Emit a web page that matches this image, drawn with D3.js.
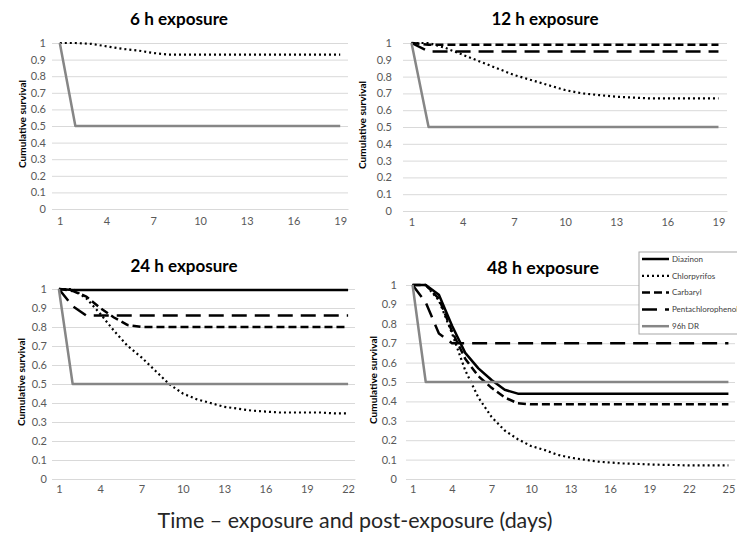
<!DOCTYPE html>
<html>
<head>
<meta charset="utf-8">
<script src="https://cdn.jsdelivr.net/npm/d3@7"></script>
<style>
  body { margin: 0; background: #fff; }
  svg { display: block; font-family: Lato, "Liberation Sans", sans-serif; }
</style>
</head>
<body>
<svg id="chart" width="737" height="537"></svg>
<script>
// categories (days)
const days19 = [1,2,3,4,5,6,7,8,9,10,11,12,13,14,15,16,17,18,19];
const days22 = [1,2,3,4,5,6,7,8,9,10,11,12,13,14,15,16,17,18,19,20,21,22];
const days25 = [1,2,3,4,5,6,7,8,9,10,11,12,13,14,15,16,17,18,19,20,21,22,23,24,25];
const ticks19 = [1,4,7,10,13,16,19];
const ticks22 = [1,4,7,10,13,16,19,22];
const ticks25 = [1,4,7,10,13,16,19,22,25];
const yTicks = [0,0.1,0.2,0.3,0.4,0.5,0.6,0.7,0.8,0.9,1];

const seriesNames = ["Diazinon", "Chlorpyrifos", "Carbaryl", "Pentachlorophenol", "96h DR"];

// 6 h exposure
const chlor6 = [1,1,0.995,0.98,0.965,0.955,0.94,0.93,0.93,0.93,0.93,0.93,0.93,0.93,0.93,0.93,0.93,0.93,0.93];
const dr6 = [1,0.5,0.5,0.5,0.5,0.5,0.5,0.5,0.5,0.5,0.5,0.5,0.5,0.5,0.5,0.5,0.5,0.5,0.5];

// 12 h exposure
const chlor12 = [1,1,0.97,0.93,0.89,0.85,0.81,0.78,0.75,0.72,0.70,0.69,0.68,0.675,0.67,0.67,0.67,0.67,0.67];
const carb12 = [1,0.99,0.99,0.99,0.99,0.99,0.99,0.99,0.99,0.99,0.99,0.99,0.99,0.99,0.99,0.99,0.99,0.99,0.99];
const penta12 = [1,0.95,0.95,0.95,0.95,0.95,0.95,0.95,0.95,0.95,0.95,0.95,0.95,0.95,0.95,0.95,0.95,0.95,0.95];
const dr12 = [1,0.5,0.5,0.5,0.5,0.5,0.5,0.5,0.5,0.5,0.5,0.5,0.5,0.5,0.5,0.5,0.5,0.5,0.5];

// 24 h exposure
const diaz24 = [1,0.995,0.995,0.995,0.995,0.995,0.995,0.995,0.995,0.995,0.995,0.995,0.995,0.995,0.995,0.995,0.995,0.995,0.995,0.995,0.995,0.995];
const chlor24 = [1,1,0.95,0.87,0.78,0.70,0.64,0.57,0.50,0.45,0.42,0.40,0.38,0.37,0.36,0.355,0.35,0.35,0.35,0.35,0.345,0.345];
const carb24 = [1,0.99,0.96,0.90,0.85,0.81,0.80,0.80,0.80,0.80,0.80,0.80,0.80,0.80,0.80,0.80,0.80,0.80,0.80,0.80,0.80,0.80];
const penta24 = [1,0.91,0.86,0.86,0.86,0.86,0.86,0.86,0.86,0.86,0.86,0.86,0.86,0.86,0.86,0.86,0.86,0.86,0.86,0.86,0.86,0.86];
const dr24 = [1,0.5,0.5,0.5,0.5,0.5,0.5,0.5,0.5,0.5,0.5,0.5,0.5,0.5,0.5,0.5,0.5,0.5,0.5,0.5,0.5,0.5];

// 48 h exposure
const diaz48 = [1,1,0.95,0.79,0.65,0.57,0.51,0.46,0.44,0.44,0.44,0.44,0.44,0.44,0.44,0.44,0.44,0.44,0.44,0.44,0.44,0.44,0.44,0.44,0.44];
const chlor48 = [1,1,0.92,0.75,0.56,0.42,0.32,0.25,0.205,0.17,0.15,0.125,0.11,0.10,0.09,0.085,0.08,0.078,0.075,0.073,0.072,0.07,0.07,0.07,0.07];
const carb48 = [1,1,0.93,0.76,0.62,0.53,0.47,0.42,0.39,0.385,0.385,0.385,0.385,0.385,0.385,0.385,0.385,0.385,0.385,0.385,0.385,0.385,0.385,0.385,0.385];
const penta48 = [1,0.91,0.75,0.70,0.70,0.70,0.70,0.70,0.70,0.70,0.70,0.70,0.70,0.70,0.70,0.70,0.70,0.70,0.70,0.70,0.70,0.70,0.70,0.70,0.70];
const dr48 = [1,0.5,0.5,0.5,0.5,0.5,0.5,0.5,0.5,0.5,0.5,0.5,0.5,0.5,0.5,0.5,0.5,0.5,0.5,0.5,0.5,0.5,0.5,0.5,0.5];

// line styles per series
const styles = {
  "Diazinon":          { stroke: "#000", width: 2.5, dash: null },
  "Chlorpyrifos":      { stroke: "#000", width: 2.2, dash: "2,3" },
  "Carbaryl":          { stroke: "#000", width: 2.5, dash: "8,4" },
  "Pentachlorophenol": { stroke: "#000", width: 2.5, dash: "15,8" },
  "96h DR":            { stroke: "#868686", width: 2.5, dash: null }
};

const panels = [
  { title: "6 h exposure", days: days19, ticks: ticks19,
    series: [["Chlorpyrifos", chlor6], ["96h DR", dr6]],
    x0: 52, x1: 348, y0: 43, y1: 209, tx: 179, ty: 25, tw: 98, ytx: 22, xly: 225, pad: 6 },
  { title: "12 h exposure", days: days19, ticks: ticks19,
    series: [["Chlorpyrifos", chlor12], ["Carbaryl", carb12], ["Pentachlorophenol", penta12], ["96h DR", dr12]],
    x0: 403, x1: 727, y0: 43, y1: 211, tx: 545, ty: 25, tw: 107, ytx: 362, xly: 226, pad: 11 },
  { title: "24 h exposure", days: days22, ticks: ticks22,
    series: [["Diazinon", diaz24], ["Chlorpyrifos", chlor24], ["Carbaryl", carb24], ["Pentachlorophenol", penta24], ["96h DR", dr24]],
    x0: 52, x1: 355, y0: 289, y1: 479, tx: 184, ty: 272, tw: 107, ytx: 21, xly: 493, pad: 5 },
  { title: "48 h exposure", days: days25, ticks: ticks25,
    series: [["Diazinon", diaz48], ["Chlorpyrifos", chlor48], ["Carbaryl", carb48], ["Pentachlorophenol", penta48], ["96h DR", dr48]],
    x0: 406, x1: 735, y0: 285, y1: 479, tx: 543, ty: 274, tw: 112, ytx: 373, xly: 493, pad: 9 }
];

const svg = d3.select("#chart");

function fitWidth(sel, target) {
  let len = sel.node().getComputedTextLength();
  let fs = parseFloat(sel.attr("font-size"));
  sel.attr("font-size", (fs * target / len).toFixed(2));
}

panels.forEach(p => {
  let g = svg.append("g");

  let x = d3.scalePoint().domain(p.days).range([p.x0, p.x1]).padding(0.5);
  let y = d3.scaleLinear().domain([0, 1]).range([p.y1, p.y0]);

  // gridlines + y labels
  let yAxis = g.append("g")
    .attr("transform", `translate(${p.x0},0)`)
    .call(d3.axisLeft(y).tickValues(yTicks).tickSize(-(p.x1 - p.x0)).tickPadding(p.pad)
      .tickFormat(d => String(+d.toFixed(1))));
  yAxis.select(".domain").remove();
  yAxis.selectAll(".tick line").attr("stroke", "#d9d9d9").attr("stroke-width", 1);
  yAxis.selectAll(".tick text")
    .attr("fill", "#595959").attr("font-size", 11)
    .attr("font-family", "Lato, sans-serif");

  // x axis
  let xAxis = g.append("g")
    .attr("transform", `translate(0,${p.y1})`)
    .call(d3.axisBottom(x).tickValues(p.ticks).tickSize(0).tickSizeOuter(0).tickPadding(0));
  xAxis.select(".domain").attr("stroke", "#d9d9d9");
  xAxis.selectAll(".tick text")
    .attr("fill", "#595959").attr("font-size", 11)
    .attr("font-family", "Lato, sans-serif")
    .attr("dy", null)
    .attr("y", p.xly - p.y1);

  // series
  let line = d3.line().x((d, i) => x(p.days[i])).y(d => y(d));
  p.series.forEach(([name, vals]) => {
    let s = styles[name];
    g.append("path")
      .datum(vals)
      .attr("d", line)
      .attr("fill", "none")
      .attr("stroke", s.stroke)
      .attr("stroke-width", s.width)
      .attr("stroke-dasharray", s.dash)
      .attr("stroke-linejoin", "round");
  });

  // title
  let tt = g.append("text")
    .attr("x", p.tx).attr("y", p.ty)
    .attr("text-anchor", "middle")
    .attr("font-size", 16).attr("font-weight", "bold")
    .attr("fill", "#000")
    .text(p.title);
  fitWidth(tt, p.tw);

  // y axis title
  let yt = g.append("text")
    .attr("transform", `translate(${p.ytx},${(p.y0 + p.y1) / 2 - 2}) rotate(-90)`)
    .attr("text-anchor", "middle")
    .attr("dy", "0.35em")
    .attr("font-size", 10).attr("font-weight", "bold")
    .attr("fill", "#000")
    .text("Cumulative survival");
  fitWidth(yt, 88);
});

// legend (sits over top-right of the 48 h panel)
let lg = svg.append("g").attr("transform", "translate(639,252)");
lg.append("rect")
  .attr("width", 110).attr("height", 82)
  .attr("fill", "#fff").attr("stroke", "#a6a6a6").attr("stroke-width", 1);
seriesNames.forEach((name, i) => {
  let s = styles[name];
  let yy = 7 + i * 16.8;
  lg.append("line")
    .attr("x1", 3).attr("x2", 30).attr("y1", yy).attr("y2", yy)
    .attr("stroke", s.stroke).attr("stroke-width", s.width)
    .attr("stroke-dasharray", s.dash);
  lg.append("text")
    .attr("x", 33).attr("y", yy).attr("dy", "0.35em")
    .attr("font-size", 8).attr("fill", "#404040")
    .text(name);
});

// shared x axis title
let xt = svg.append("text")
  .attr("x", 355).attr("y", 528)
  .attr("text-anchor", "middle")
  .attr("font-size", 18).attr("fill", "#262626")
  .text("Time – exposure and post-exposure (days)");
fitWidth(xt, 395);
</script>
</body>
</html>
